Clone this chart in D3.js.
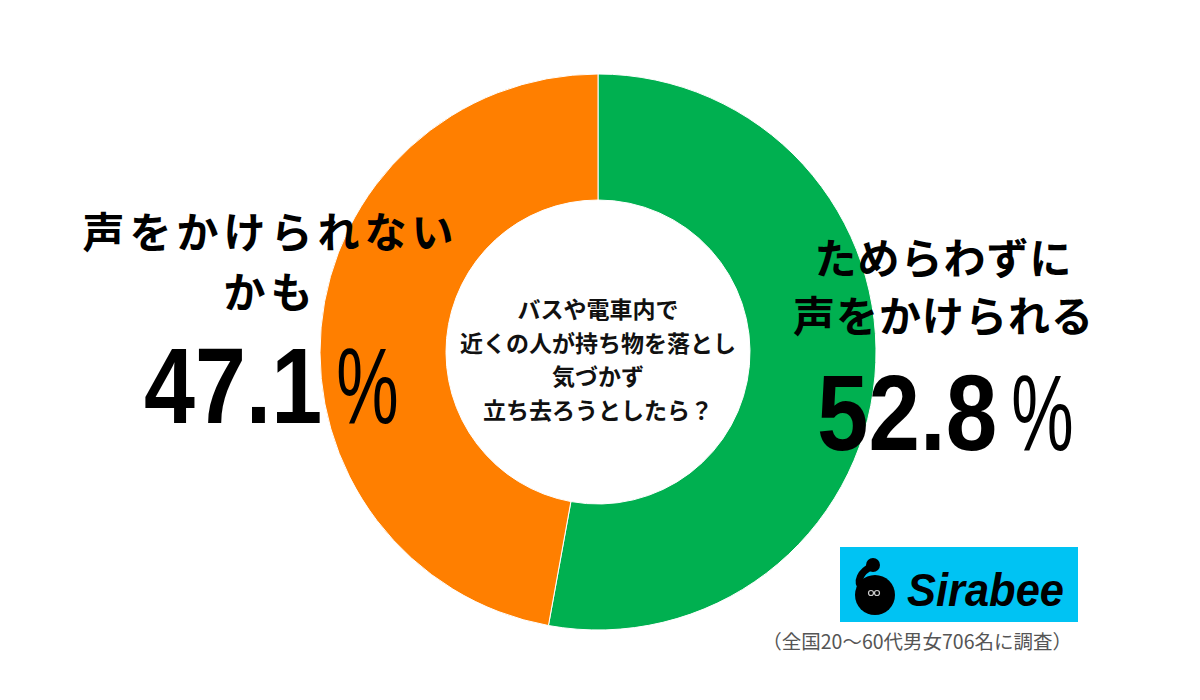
<!DOCTYPE html>
<html>
<head>
<meta charset="utf-8">
<script src="https://cdn.jsdelivr.net/npm/d3@7"></script>
<style>
  body { margin: 0; background: #fff; }
  svg text { font-family: "Noto Sans CJK JP", sans-serif; }
</style>
</head>
<body>
<div id="chart"></div>
<script>
const categories = ["ためらわずに声をかけられる", "声をかけられないかも"];
const values = [52.8, 47.1];
const labelLines = [["ためらわずに", "声をかけられる"], ["声をかけられない", "かも"]];
const question = ["バスや電車内で", "近くの人が持ち物を落とし", "気づかず", "立ち去ろうとしたら？"];
const footnote = "（全国20～60代男女706名に調査）";

const width = 1200, height = 700;
const cx = 598, cy = 352, outerR = 278, innerR = 152;

const colour = d3.scaleOrdinal()
    .domain(categories)
    .range(["#00b050", "#ff7f00"]);

const svg = d3.select("#chart")
    .append("svg")
        .attr("width", width)
        .attr("height", height);

const pie = d3.pie().sort(null).value(d => d.value);
const arc = d3.arc().innerRadius(innerR).outerRadius(outerR);

const slices = categories.map((c, i) => ({ key: c, value: values[i] }));

svg.append("g")
    .attr("transform", `translate(${cx},${cy})`)
    .selectAll("path")
    .data(pie(slices))
    .join("path")
        .attr("d", arc)
        .attr("fill", d => colour(d.data.key))
        .attr("stroke", "#fff")
        .attr("stroke-width", 1);

// question in the middle
svg.append("g")
    .selectAll("text")
    .data(question)
    .join("text")
        .attr("x", cx)
        .attr("y", (d, i) => 318 + i * 33.5)
        .attr("text-anchor", "middle")
        .style("font-size", "23px")
        .style("font-weight", "700")
        .style("fill", "#111")
        .text(d => d);

// side labels
const sides = [
    { x: 943, y0: 274, step: 58, spacing: 1, pctX: 817, pctY: 450, sx: 0.857 },
    { x: 268, y0: 248, step: 60, spacing: 5, pctX: 144, pctY: 423, sx: 0.848 }
];

sides.forEach((s, i) => {
    const g = svg.append("g");
    g.selectAll("text.lbl")
        .data(labelLines[i])
        .join("text")
            .attr("class", "lbl")
            .attr("x", s.x + s.spacing / 2)
            .attr("y", (d, j) => s.y0 + j * s.step)
            .attr("text-anchor", "middle")
            .style("font-size", "42px")
            .style("font-weight", "700")
            .style("letter-spacing", `${s.spacing}px`)
            .style("fill", "#000")
            .text(d => d);

    const font = "'Liberation Sans', Arial, sans-serif";
    const num = g.append("text")
        .attr("transform", `translate(${s.pctX},${s.pctY}) scale(${s.sx},1)`)
        .style("font-family", font)
        .style("font-size", "108px")
        .style("font-weight", "700")
        .style("fill", "#000")
        .text(values[i].toFixed(1));
    const numW = num.node().getBBox().width * s.sx;
    g.append("text")
        .attr("transform", `translate(${s.pctX + numW + 14},${s.pctY}) scale(0.65,1)`)
        .style("font-family", font)
        .style("font-size", "108px")
        .style("font-weight", "400")
        .style("fill", "#000")
        .text("%");
});

// Sirabee logo
const logo = svg.append("g");
logo.append("rect")
    .attr("x", 840).attr("y", 547)
    .attr("width", 238).attr("height", 75)
    .attr("fill", "#00c3f3");
logo.append("path")
    .attr("d", "M872,566 C860,572 856,582 862,588")
    .attr("fill", "none")
    .attr("stroke", "#000")
    .attr("stroke-width", 7)
    .attr("stroke-linecap", "round");
logo.append("circle").attr("cx", 873).attr("cy", 565).attr("r", 7).attr("fill", "#000");
logo.append("circle").attr("cx", 875).attr("cy", 595).attr("r", 20).attr("fill", "#000");
logo.append("circle").attr("cx", 871).attr("cy", 593).attr("r", 2.5)
    .attr("fill", "none").attr("stroke", "#ccc").attr("stroke-width", 1.2);
logo.append("circle").attr("cx", 877).attr("cy", 593).attr("r", 2.5)
    .attr("fill", "none").attr("stroke", "#ccc").attr("stroke-width", 1.2);
logo.append("text")
    .attr("x", 907).attr("y", 606)
    .attr("textLength", 157)
    .attr("lengthAdjust", "spacingAndGlyphs")
    .style("font-family", "'Liberation Sans', Arial, sans-serif")
    .style("font-size", "46px")
    .style("font-weight", "700")
    .style("font-style", "italic")
    .style("fill", "#000")
    .text("Sirabee");

svg.append("text")
    .attr("x", 1072)
    .attr("y", 649)
    .attr("text-anchor", "end")
    .style("font-size", "19.5px")
    .style("fill", "#555")
    .text(footnote);
</script>
</body>
</html>
